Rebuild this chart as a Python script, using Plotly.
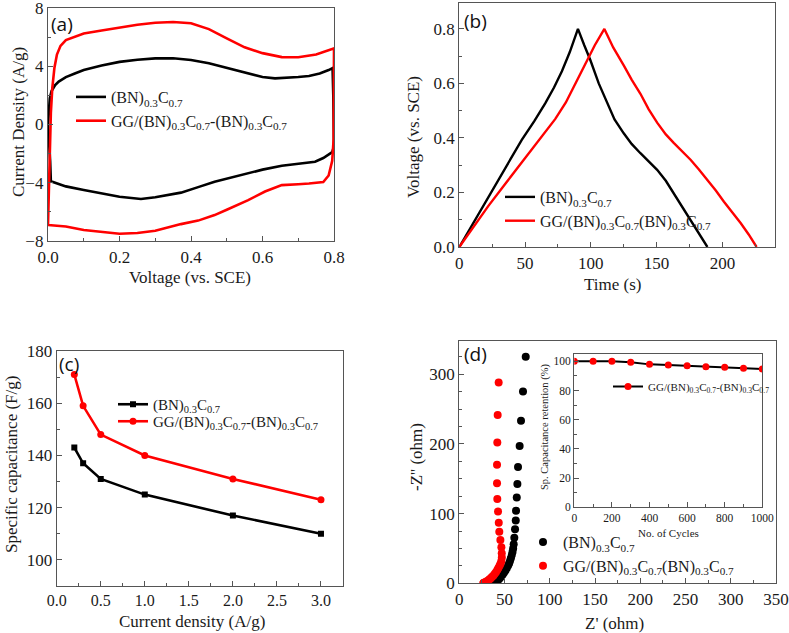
import plotly.graph_objects as go

# ---------------- data ----------------
# (a) CV curves (closed loops)
cv_bn_v = [0.0, 0.002, 0.005, 0.01, 0.02, 0.03, 0.05, 0.075, 0.1, 0.15, 0.2, 0.25, 0.3, 0.35, 0.4, 0.45,
           0.5, 0.55, 0.6, 0.635, 0.67, 0.7, 0.73, 0.76, 0.785, 0.796, 0.798, 0.8, 0.795, 0.785, 0.77,
           0.747, 0.7, 0.654, 0.6, 0.56, 0.5, 0.466, 0.42, 0.372, 0.3, 0.26, 0.2, 0.15, 0.1, 0.05, 0.02,
           0.01, 0.008, 0.006, 0.003, 0.0]
cv_bn_i = [0.0, 1.0, 1.8, 2.3, 2.7, 2.95, 3.25, 3.5, 3.74, 4.05, 4.3, 4.45, 4.54, 4.55, 4.43, 4.2,
           3.9, 3.55, 3.26, 3.17, 3.2, 3.26, 3.33, 3.5, 3.74, 3.88, 2.0, -1.5, -1.9, -2.05, -2.3,
           -2.56, -2.72, -2.83, -3.1, -3.35, -3.7, -3.93, -4.3, -4.68, -5.0, -5.12, -4.96, -4.75, -4.5, -4.25, -4.0,
           -3.95, -3.9, -2.5, -1.0, 0.0]

cv_gg_v = [0.0, 0.003, 0.005, 0.008, 0.012, 0.018, 0.025, 0.035, 0.05, 0.075, 0.1, 0.15, 0.2, 0.25, 0.3,
           0.35, 0.4, 0.45, 0.5, 0.55, 0.6, 0.654, 0.7, 0.75, 0.8, 0.799, 0.795, 0.785, 0.77, 0.75,
           0.73, 0.7, 0.654, 0.607, 0.56, 0.5, 0.466, 0.42, 0.372, 0.3, 0.25, 0.2, 0.15, 0.1, 0.05,
           0.02, 0.0]
cv_gg_i = [-6.9, -4.0, -1.5, 0.8, 2.5, 3.9, 4.8, 5.4, 5.8, 6.05, 6.25, 6.45, 6.65, 6.85, 6.99,
           7.04, 6.95, 6.55, 5.92, 5.3, 4.9, 4.63, 4.62, 4.8, 5.23, -1.0, -2.5, -3.5, -3.95, -4.02,
           -4.05, -4.1, -4.16, -4.6, -5.19, -5.85, -6.22, -6.6, -6.84, -7.3, -7.45, -7.5, -7.4, -7.25, -7.0,
           -6.92, -6.9]

# (b) charge-discharge
gcd_bn_t = [0, 10, 22, 35, 47.5, 57, 65.3, 72, 78, 84, 90.2, 95, 99.6, 106, 112.3, 118, 125, 131, 137.7,
            144, 150.4, 157, 163, 170, 175.8, 182, 188.6]
gcd_bn_v = [0, 0.083, 0.183, 0.29, 0.393, 0.462, 0.527, 0.585, 0.645, 0.715, 0.8, 0.74, 0.686, 0.6, 0.527,
            0.468, 0.417, 0.378, 0.344, 0.314, 0.283, 0.243, 0.197, 0.145, 0.099, 0.05, 0.0]
gcd_gg_t = [0, 11, 22, 35, 47.5, 60, 73, 81, 88, 96, 103, 110.3, 117, 125, 131, 137.7, 144, 150.4, 157,
            163, 170, 175.8, 182, 188.6, 195, 201.2, 208, 214, 220, 226]
gcd_gg_v = [0, 0.075, 0.15, 0.232, 0.31, 0.39, 0.47, 0.53, 0.595, 0.67, 0.74, 0.8, 0.732, 0.666, 0.614,
            0.562, 0.505, 0.456, 0.413, 0.382, 0.35, 0.32, 0.285, 0.246, 0.207, 0.166, 0.125, 0.087, 0.046, 0.0]

# (c) rate capability
cd_x = [0.2, 0.3, 0.5, 1.0, 2.0, 3.0]
cap_bn = [143, 137, 131, 125, 117, 110]
cap_gg = [171, 159, 148, 140, 131, 123]

# (d) Nyquist
ny_bn_x = [73.4, 70.4, 68.2, 66.7, 64.9, 64.2, 63.5, 62.7, 62.4, 61.6, 60.8, 60.1, 59.5, 58.8, 58.0, 57.0,
           56.0, 55.0, 54.0, 52.5, 51.0, 49.5, 48.0, 46.5, 45.0, 43.5, 42.0, 40.5, 39.0, 38.0]
ny_bn_y = [325, 275, 233, 197, 167, 142.5, 123, 104, 90, 77.5, 65.4, 56, 50, 45, 40.6, 36,
           32, 28.5, 25.5, 22, 18.5, 15.5, 12.5, 10, 7.5, 5.5, 3.8, 2.3, 1.2, 0.3]
ny_gg_x = [43.5, 42.4, 42.0, 41.7, 41.7, 42.0, 42.8, 43.6, 44.2, 45.4, 46.5, 46.9, 47.0, 46.5, 45.5, 44.5,
           43.2, 42.0, 40.5, 39.0, 37.6, 36.0, 34.5, 33.0, 31.5, 30.0, 28.5, 27.0, 26.5]
ny_gg_y = [288, 241.5, 202, 170, 143.5, 121, 103, 87, 74, 62, 51.6, 43, 37, 32, 28, 25,
           22, 19, 16, 13.5, 11, 9, 7, 5.3, 3.8, 2.6, 1.6, 0.8, 0.2]

# inset: cycling stability
cycles = [0, 100, 200, 300, 400, 500, 600, 700, 800, 900, 1000]
retention = [100, 100, 100, 99.3, 97.9, 97.5, 97.0, 96.3, 95.9, 95.2, 94.7]

name_bn = "(BN)<sub>0.3</sub>C<sub>0.7</sub>"
name_gg_dash = "GG/(BN)<sub>0.3</sub>C<sub>0.7</sub>-(BN)<sub>0.3</sub>C<sub>0.7</sub>"
name_gg = "GG/(BN)<sub>0.3</sub>C<sub>0.7</sub>(BN)<sub>0.3</sub>C<sub>0.7</sub>"

RED = "#ff0000"
BLK = "#000000"
SERIF = "Liberation Serif"
TXT = "#1a1a1a"

W, H = 789, 633


def dx(a, b):
    return [a / W, b / W]


def dy(top, bottom):
    return [1 - bottom / H, 1 - top / H]


fig = go.Figure()

# (a)
fig.add_trace(go.Scatter(x=cv_bn_v, y=cv_bn_i, mode="lines", line=dict(color=BLK, width=2.6),
                         name=name_bn, xaxis="x", yaxis="y", legend="legend"))
fig.add_trace(go.Scatter(x=cv_gg_v, y=cv_gg_i, mode="lines", line=dict(color=RED, width=2.6),
                         name=name_gg_dash, xaxis="x", yaxis="y", legend="legend"))
# (b)
fig.add_trace(go.Scatter(x=gcd_bn_t, y=gcd_bn_v, mode="lines", line=dict(color=BLK, width=2.4),
                         name=name_bn, xaxis="x2", yaxis="y2", legend="legend2"))
fig.add_trace(go.Scatter(x=gcd_gg_t, y=gcd_gg_v, mode="lines", line=dict(color=RED, width=2.4),
                         name=name_gg, xaxis="x2", yaxis="y2", legend="legend2"))
# (c)
fig.add_trace(go.Scatter(x=cd_x, y=cap_bn, mode="lines+markers", line=dict(color=BLK, width=2.6),
                         marker=dict(symbol="square", size=6, color=BLK),
                         name=name_bn, xaxis="x3", yaxis="y3", legend="legend3"))
fig.add_trace(go.Scatter(x=cd_x, y=cap_gg, mode="lines+markers", line=dict(color=RED, width=2.6),
                         marker=dict(symbol="circle", size=7, color=RED),
                         name=name_gg_dash, xaxis="x3", yaxis="y3", legend="legend6"))
# (d)
fig.add_trace(go.Scatter(x=ny_bn_x, y=ny_bn_y, mode="markers", marker=dict(size=8, color=BLK),
                         name=name_bn, xaxis="x4", yaxis="y4", legend="legend4"))
fig.add_trace(go.Scatter(x=ny_gg_x, y=ny_gg_y, mode="markers", marker=dict(size=8, color=RED),
                         name=name_gg, xaxis="x4", yaxis="y4", legend="legend4"))
# inset
fig.add_trace(go.Scatter(x=cycles, y=retention, mode="lines+markers", line=dict(color=BLK, width=2),
                         marker=dict(size=7, color=RED),
                         name=name_gg_dash, xaxis="x5", yaxis="y5", legend="legend5"))

AXC = "#555555"


def ax(domain, rng, dtick, minor, fmt=None, anchor=None, size=17):
    d = dict(domain=domain, range=rng, dtick=dtick, tick0=0, showgrid=False, zeroline=False,
             showline=True, linecolor=AXC, linewidth=1.3, mirror=True, automargin=False,
             ticks="inside", ticklen=5, tickwidth=1.2, tickcolor=AXC, ticklabeloverflow="allow",
             tickfont=dict(family=SERIF, size=size, color=TXT),
             minor=dict(ticks="inside", ticklen=3, dtick=minor, tick0=0, tickcolor=AXC, showgrid=False),
             anchor=anchor)
    if fmt:
        d["tickformat"] = fmt
    return d


def leg(x, y, size):
    return dict(x=x / W, y=1 - y / H, xanchor="left", yanchor="top", bgcolor="rgba(0,0,0,0)",
                font=dict(family=SERIF, size=size, color=TXT))


layout = dict(
    template="none",
    width=W, height=H, autosize=False, margin=dict(l=0, r=0, t=0, b=0, pad=0),
    paper_bgcolor="white", plot_bgcolor="white", showlegend=True,
    font=dict(family=SERIF, size=17, color=TXT),
    xaxis=ax(dx(48, 334), [0, 0.8], 0.2, 0.1, fmt=".1f", anchor="y"),
    yaxis=ax(dy(8, 241), [-8, 8], 4, 2, anchor="x"),
    xaxis2=ax(dx(459.3, 775), [0, 240], 50, 25, anchor="y2"),
    yaxis2=ax(dy(3, 247), [0, 0.895], 0.2, 0.1, fmt=".1f", anchor="x2"),
    xaxis3=ax(dx(56.7, 343), [0, 3.25], 0.5, 0.25, fmt=".1f", anchor="y3", size=16),
    yaxis3=ax(dy(351, 586), [90, 180], 20, 10, anchor="x3"),
    xaxis4=ax(dx(459.3, 776), [0, 350], 50, 25, anchor="y4"),
    yaxis4=ax(dy(340.7, 583.3), [0, 348], 100, 25, anchor="x4"),
    xaxis5=ax(dx(574.3, 762.3), [0, 1000], 200, 100, anchor="y5", size=11.5),
    yaxis5=ax(dy(354, 507.3), [0, 105], 20, 10, anchor="x5", size=11.5),
    legend=leg(71, 80, 16),
    legend2=leg(500, 180, 16),
    legend3=leg(113, 388, 15),
    legend6=leg(113, 405, 15),
    legend4=leg(523, 525, 16),
    legend5=leg(608, 372, 11),
)
fig.update_layout(**layout)

# axis titles (text, x, y, angle, size)
titles = [
    ("Voltage (vs. SCE)", 190, 278, 0, 17),
    ("Current Density (A/g)", 18, 122, -90, 17),
    ("Time (s)", 612, 284, 0, 17),
    ("Voltage (vs. SCE)", 414, 137, -90, 17),
    ("Current density (A/g)", 192, 621, 0, 17),
    ("Specific capacitance (F/g)", 11, 465, -90, 17),
    ("Z' (ohm)", 614, 623, 0, 17),
    ("-Z'' (ohm)", 416, 457, -90, 17),
    ("No. of Cycles", 668, 533, 0, 11),
    ("Sp. Capacitance retention (%)", 545, 427, -90, 10.5),
]
for txt, px, py, ang, sz in titles:
    fig.add_annotation(text=txt, x=px / W, y=1 - py / H, xref="paper", yref="paper",
                       xanchor="center", yanchor="middle", showarrow=False, textangle=ang,
                       font=dict(family=SERIF, size=sz, color=TXT))

labels = [("(a)", 49, 24), ("(b)", 462, 21), ("(c)", 57, 364), ("(d)", 462, 354)]
for txt, px, py in labels:
    fig.add_annotation(text=txt, x=px / W, y=1 - py / H, xref="paper", yref="paper",
                       xanchor="left", yanchor="middle", showarrow=False,
                       font=dict(family="Open Sans", size=19, color="#111"))

fig.write_html("out.html", config={"displayModeBar": False},
               post_script="document.body.style.margin='0';document.body.style.padding='0';")
